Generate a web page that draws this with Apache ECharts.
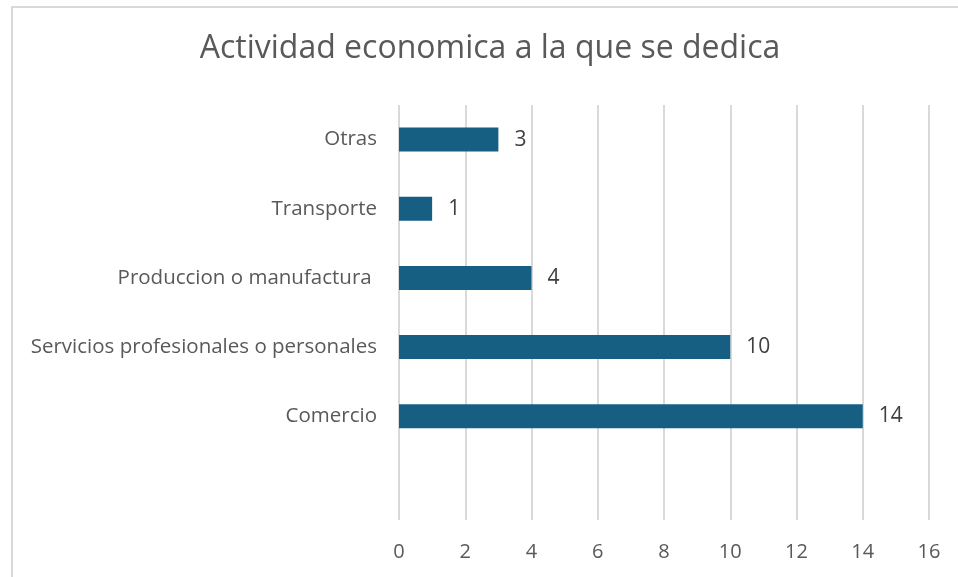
<!DOCTYPE html>
<html>
<head>
<meta charset="utf-8">
<script src="https://cdn.jsdelivr.net/npm/echarts@6/dist/echarts.min.js"></script>
<style>html,body{margin:0;padding:0;background:#fff}#c{width:958px;height:577px}</style>
</head>
<body>
<div id="c"></div>
<script>
const categories = ['', 'Comercio', 'Servicios profesionales o personales', 'Produccion o manufactura ', 'Transporte', 'Otras'];
const values = [null, 14, 10, 4, 1, 3];
const xTicks = { min: 0, max: 16, interval: 2 };
const titleText = 'Actividad economica a la que se dedica';

const chart = echarts.init(document.getElementById('c'), null, { renderer: 'canvas' });
chart.setOption({
  animation: false,
  backgroundColor: '#fff',
  graphic: [{
    type: 'rect', left: 11, top: 6, z: -1,
    shape: { x: 0, y: 0, width: 980, height: 620 },
    style: { fill: '#fff', stroke: '#d9d9d9', lineWidth: 2 }
  }],
  title: {
    text: titleText, top: 33,
    textStyle: { fontFamily: 'Open Sans', fontWeight: 'normal', fontSize: 32, color: '#595959' },
    padding: 0, left: 490, textAlign: 'center'
  },
  grid: { left: 399, right: 29, top: 105, bottom: 57, containLabel: false },
  xAxis: {
    type: 'value', min: xTicks.min, max: xTicks.max, interval: xTicks.interval,
    axisLine: { show: false }, axisTick: { show: false },
    splitLine: { lineStyle: { color: '#d9d9d9', width: 2 } },
    axisLabel: { color: '#595959', fontSize: 20, fontFamily: 'Open Sans', margin: 22 }
  },
  yAxis: {
    type: 'category', data: categories,
    axisLine: { show: false }, axisTick: { show: false },
    axisLabel: { color: '#595959', fontSize: 20.5, fontFamily: 'Open Sans', margin: 22 }
  },
  series: [{
    type: 'bar', data: values, barWidth: 24,
    itemStyle: { color: '#165F82' },
    label: { show: true, position: 'right', distance: 16, color: '#404040', fontSize: 21, fontFamily: 'Open Sans' }
  }]
});
</script>
</body>
</html>
